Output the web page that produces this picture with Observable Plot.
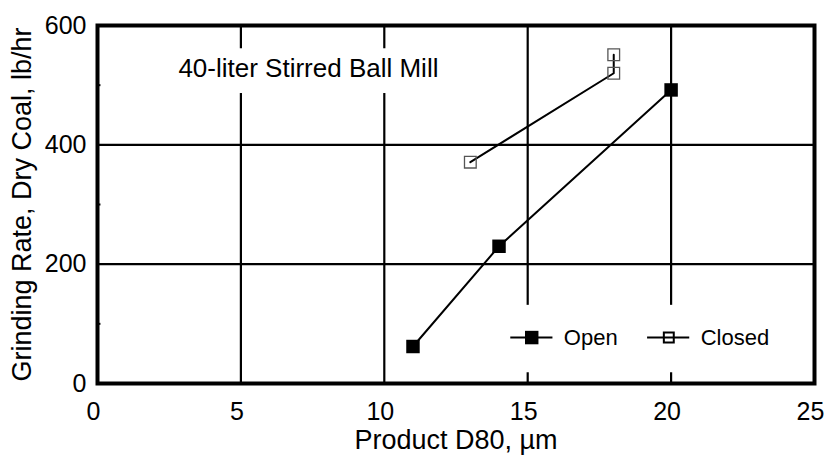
<!DOCTYPE html>
<html><head><meta charset="utf-8">
<script src="https://cdn.jsdelivr.net/npm/d3@7"></script>
<script src="https://cdn.jsdelivr.net/npm/@observablehq/plot@0.6"></script>
<style>body{margin:0;background:#fff}</style>
</head><body><div id="chart"></div>
<script>
// ---- data ----
const openD80 = [11, 14, 20];
const openRate = [62, 230, 492];
const closedD80 = [13, 18, 18];
const closedRate = [371, 520, 551];
const xTicks = [0, 5, 10, 15, 20, 25];
const yTicks = [0, 200, 400, 600];
const yMinorTicks = [100, 300, 500];
const seriesNames = ["Open", "Closed"];
const titleText = "40-liter Stirred Ball Mill";
const xLabel = "Product D80, µm";
const yLabel = "Grinding Rate, Dry Coal, lb/hr";

const openData = openD80.map((x, i) => ({x, y: openRate[i]}));
const closedData = closedD80.map((x, i) => ({x, y: closedRate[i]}));

const font = "'Liberation Sans', Arial, Helvetica, sans-serif";

// legend layout (in data units, inside plot)
const legY = 77;
const legOpen = [{name: seriesNames[0], x1: 14.41, x2: 15.88, xm: 15.14, xt: 16.26}];
const legClosed = [{name: seriesNames[1], x1: 19.18, x2: 20.65, xm: 19.92, xt: 21.03}];
const legAll = legOpen.concat(legClosed);

const plot = Plot.plot({
  width: 824, height: 457,
  marginLeft: 97, marginRight: 10, marginTop: 25, marginBottom: 74,
  style: {fontFamily: font, background: "white", color: "black", overflow: "visible"},
  x: {domain: [0, 25]},
  y: {domain: [0, 600]},
  marks: [
    Plot.gridX([5, 10, 15, 20], {stroke: "black", strokeOpacity: 1, strokeWidth: 2.2}),
    Plot.gridY([200, 400], {stroke: "black", strokeOpacity: 1, strokeWidth: 2.2}),
    Plot.ruleY(yMinorTicks, {x1: 0, x2: 0.12, stroke: "black", strokeWidth: 2}),
    // white boxes behind title and legend
    Plot.rect([0], {x1: 2.4, x2: 12.3, y1: 486, y2: 561, fill: "white"}),
    Plot.rect([0], {x1: 14.0, x2: 24.1, y1: 18, y2: 131, fill: "white"}),
    Plot.line(closedData, {x: "x", y: "y", stroke: "black", strokeWidth: 2}),
    Plot.line(openData, {x: "x", y: "y", stroke: "black", strokeWidth: 2}),
    Plot.dot(openData, {x: "x", y: "y", symbol: "square", fill: "black", r: 7.6}),
    Plot.dot(closedData, {x: "x", y: "y", symbol: "square", fill: "none", stroke: "#555", strokeWidth: 1.3, r: 6.6}),
    Plot.frame({stroke: "black", strokeWidth: 4}),
    Plot.text([titleText], {x: 2.82, y: 528, textAnchor: "start", fontSize: 26, fill: "black"}),
    // legend
    Plot.ruleY(legAll, {x1: "x1", x2: "x2", y: legY, stroke: "black", strokeWidth: 2}),
    Plot.dot(legOpen, {x: "xm", y: legY, symbol: "square", fill: "black", r: 7.6}),
    Plot.dot(legClosed, {x: "xm", y: legY, symbol: "square", fill: "none", stroke: "black", strokeWidth: 2, r: 5.6}),
    Plot.text(legAll, {x: "xt", y: legY, text: "name", textAnchor: "start", fontSize: 22, fill: "black"}),
    // axes
    Plot.axisX(xTicks, {tickSize: 0, tickPadding: 19, fontSize: 25, dx: -4, label: null}),
    Plot.axisY(yTicks, {tickSize: 0, tickPadding: 11, fontSize: 25, label: null}),
    Plot.text([xLabel], {frameAnchor: "bottom", dy: 57, fontSize: 27, fill: "black", lineAnchor: "middle"}),
    Plot.text([yLabel], {frameAnchor: "left", dx: -75, rotate: -90, textAnchor: "middle", fontSize: 27, fill: "black", lineAnchor: "middle"})
  ]
});
document.getElementById("chart").append(plot);
</script>
</body></html>
